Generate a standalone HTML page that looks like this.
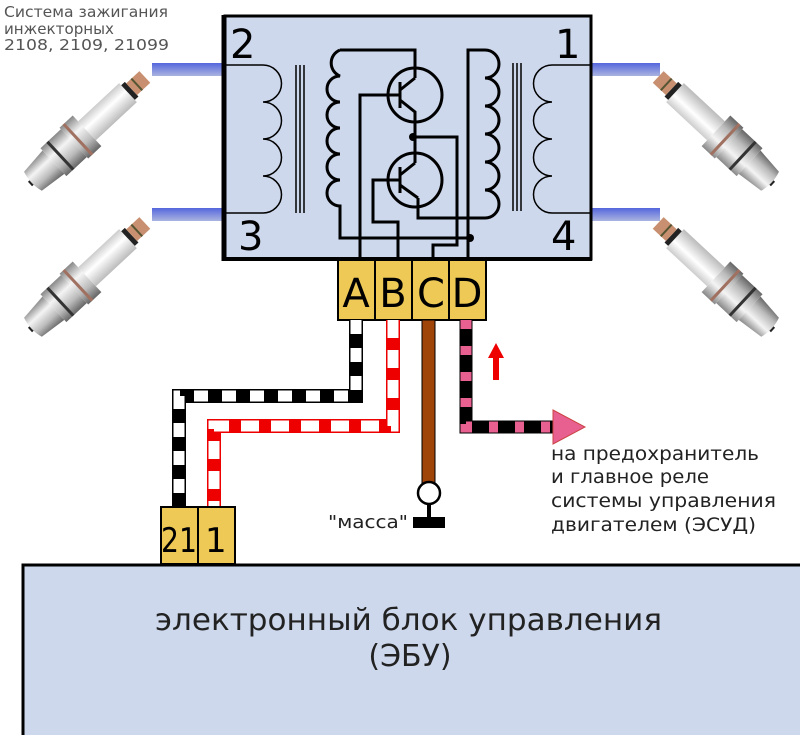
<!DOCTYPE html>
<html><head><meta charset="utf-8"><style>
html,body{margin:0;padding:0;background:#fff;width:800px;height:735px;overflow:hidden}
svg{display:block}
text{font-family:"DejaVu Sans","Liberation Sans",sans-serif}
</style></head><body>
<svg width="800" height="735" viewBox="0 0 800 735" xmlns="http://www.w3.org/2000/svg">
<defs>
<linearGradient id="met" x1="0" y1="0" x2="0" y2="1">
<stop offset="0" stop-color="#888"/><stop offset="0.35" stop-color="#f4f4f4"/><stop offset="0.7" stop-color="#bbb"/><stop offset="1" stop-color="#666"/></linearGradient>
<linearGradient id="cer" x1="0" y1="0" x2="0" y2="1">
<stop offset="0" stop-color="#ccc"/><stop offset="0.4" stop-color="#fff"/><stop offset="1" stop-color="#bbb"/></linearGradient>
<linearGradient id="lead" x1="0" y1="0" x2="0" y2="1">
<stop offset="0" stop-color="#5566dd"/><stop offset="1" stop-color="#aab4e0"/></linearGradient>
<g id="plug">
<rect x="0" y="-3" width="6" height="6" fill="#222"/>
<path d="M4,-13 L32,-16 L32,16 L4,13 Q0,0 4,-13Z" fill="url(#met)"/>
<rect x="32" y="-19" width="28" height="38" fill="url(#met)"/>
<rect x="40" y="-19" width="3" height="38" fill="#333"/>
<rect x="60" y="-21" width="18" height="42" fill="url(#met)"/>
<rect x="64" y="-21" width="3" height="42" fill="#a07060"/>
<rect x="78" y="-13" width="56" height="26" fill="url(#cer)"/>
<rect x="134" y="-10" width="5" height="20" fill="#222"/>
<rect x="139" y="-8" width="18" height="16" fill="#c89070"/>
<rect x="145" y="-8" width="2" height="16" fill="#553"/>
</g>
</defs>

<text x="4" y="17" font-size="15" fill="#555" textLength="164" lengthAdjust="spacingAndGlyphs">Система зажигания</text>
<text x="4" y="34" font-size="15" fill="#555" textLength="110" lengthAdjust="spacingAndGlyphs">инжекторных</text>
<text x="4" y="50" font-size="15" fill="#555" textLength="165" lengthAdjust="spacingAndGlyphs">2108, 2109, 21099</text>

<rect x="152" y="63" width="72" height="13" fill="url(#lead)"/>
<rect x="152" y="208" width="72" height="13" fill="url(#lead)"/>
<rect x="590" y="63" width="70" height="13" fill="url(#lead)"/>
<rect x="590" y="208" width="70" height="13" fill="url(#lead)"/>

<use href="#plug" transform="translate(30,184) rotate(-43)"/>
<use href="#plug" transform="translate(30,330) rotate(-43)"/>
<use href="#plug" transform="translate(773,184) rotate(-137)"/>
<use href="#plug" transform="translate(773,330) rotate(-137)"/>

<rect x="225" y="16" width="366" height="243" fill="#cdd8ec" stroke="#000" stroke-width="3"/>
<line x1="224" y1="15" x2="224" y2="261" stroke="#000" stroke-width="5"/>
<line x1="222" y1="259" x2="592" y2="259" stroke="#000" stroke-width="4"/>
<text x="230" y="58" font-size="40">2</text>
<text x="555" y="58" font-size="40">1</text>
<text x="238" y="250" font-size="40">3</text>
<text x="551" y="250" font-size="40">4</text>

<g fill="none" stroke="#000" stroke-width="1.5">
<path d="M226,65 H263 a18,18 0 0 1 0,37 a18,18 0 0 1 0,37 a18,18 0 0 1 0,37 a18,18 0 0 1 0,37 H226"/>
<path d="M590,65 H552 a18,18 0 0 0 0,37 a18,18 0 0 0 0,37 a18,18 0 0 0 0,37 a18,18 0 0 0 0,37 H590"/>
<path d="M296,65V213 M300,65V213 M304,65V213 M513,63V211 M517,63V211 M521,63V211"/>
</g>
<g fill="none" stroke="#000" stroke-width="3">
<path d="M340,50 a14,14 0 0 0 0,26 a13,13 0 0 0 0,26 a13,13 0 0 0 0,26 a13,13 0 0 0 0,26 a13,13 0 0 0 0,26 a13,13 0 0 0 0,26 V238 H470"/>
<path d="M340,50 H415 V78"/>
<path d="M468,258 V50 H485 a14,14 0 0 1 0,28 a13,13 0 0 1 0,28 a13,13 0 0 1 0,28 a13,13 0 0 1 0,28 a13,13 0 0 1 0,28 a13,13 0 0 1 0,28 H418 V198"/>
<circle cx="415" cy="95" r="27"/>
<circle cx="415" cy="180" r="27"/>
<path d="M360,258 V95 H400 M400,82 V108 M400,90 L415,78 M400,100 L415,112 V163 M400,167 V193 M400,175 L415,163 M400,185 L418,198"/>
<path d="M398,258 V222 H373 V180 H400"/>
<path d="M415,137 H457 V245 H433 V258"/>
</g>
<circle cx="413" cy="137" r="4"/>
<circle cx="470" cy="238" r="4"/>

<g stroke="#000" stroke-width="2" fill="#eec955">
<rect x="338" y="260" width="37" height="60"/>
<rect x="375" y="260" width="37" height="60"/>
<rect x="412" y="260" width="37" height="60"/>
<rect x="449" y="260" width="37" height="60"/>
</g>
<g font-size="40" text-anchor="middle">
<text x="356" y="307">A</text><text x="393" y="307">B</text><text x="431" y="307">C</text><text x="467" y="307">D</text>
</g>

<path d="M356,320 V396 H179 V507" fill="none" stroke="#000" stroke-width="14"/>
<path d="M356,320 V396 H179 V507" fill="none" stroke="#fff" stroke-width="11" stroke-dasharray="14 14"/>
<path d="M393,320 V426 H214 V507" fill="none" stroke="#e00" stroke-width="14"/>
<path d="M393,320 V426 H214 V507" fill="none" stroke="#fff" stroke-width="11" stroke-dasharray="18 12"/>
<rect x="422" y="320" width="13" height="163" fill="#a0450a" stroke="#000" stroke-width="1"/>
<circle cx="429" cy="493" r="11" fill="#fff" stroke="#000" stroke-width="2.5"/>
<rect x="427" y="504" width="4" height="14" fill="#000"/>
<rect x="413" y="517" width="32" height="11" fill="#000"/>
<text x="328" y="528" font-size="18" fill="#222" textLength="80" lengthAdjust="spacingAndGlyphs">"масса"</text>
<path d="M466,320 V427 H553" fill="none" stroke="#000" stroke-width="13"/>
<path d="M466,320 V427 H553" fill="none" stroke="#e86090" stroke-width="11" stroke-dasharray="9 17"/>
<path d="M553,417 V410 L585,427 L553,444 V437Z" fill="#e86090" stroke="#c44" stroke-width="1"/>
<path d="M493,380 V358 H488 L496,343 L504,358 H499 V380Z" fill="#e00"/>

<g font-size="19" fill="#222">
<text x="551" y="460" textLength="208" lengthAdjust="spacingAndGlyphs">на предохранитель</text>
<text x="551" y="483" textLength="158" lengthAdjust="spacingAndGlyphs">и главное реле</text>
<text x="551" y="507" textLength="225" lengthAdjust="spacingAndGlyphs">системы управления</text>
<text x="551" y="531" textLength="205" lengthAdjust="spacingAndGlyphs">двигателем (ЭСУД)</text>
</g>

<g stroke="#000" stroke-width="2" fill="#eec955">
<rect x="161" y="507" width="37" height="57"/>
<rect x="198" y="507" width="37" height="57"/>
</g>
<text x="161" y="552" font-size="34" textLength="36" lengthAdjust="spacingAndGlyphs">21</text>
<text x="205" y="552" font-size="34">1</text>

<rect x="23" y="565" width="790" height="180" fill="#cdd8ec" stroke="#000" stroke-width="3"/>
<text x="155" y="630" font-size="30" fill="#222" textLength="507" lengthAdjust="spacingAndGlyphs">электронный блок управления</text>
<text x="410" y="666" font-size="30" text-anchor="middle" fill="#222">(ЭБУ)</text>
</svg>
</body></html>
